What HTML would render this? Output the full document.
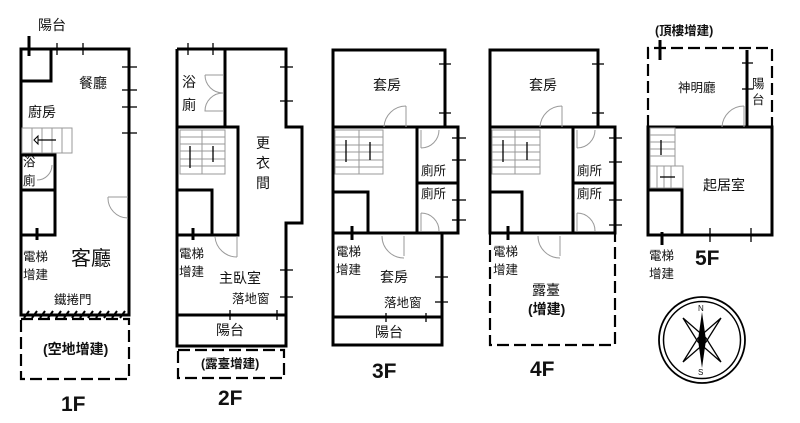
<!DOCTYPE html>
<html><head><meta charset="utf-8"><style>
html,body{margin:0;padding:0;background:#fff;}
svg{display:block;}
text{font-family:"Liberation Sans","Noto Sans CJK TC",sans-serif;fill:#111;}
.w{stroke:#000;stroke-width:3;fill:none;}
.t{stroke:#000;stroke-width:1.3;fill:none;}
.d{stroke:#000;stroke-width:2.2;fill:none;stroke-dasharray:12,5;}
.g{stroke:#999;stroke-width:1;fill:none;}
.l{font-size:14px;}
.s{font-size:12.5px;}
.b{font-size:21px;font-weight:bold;}
</style></head><body>
<svg width="800" height="423" viewBox="0 0 800 423" xmlns="http://www.w3.org/2000/svg">
<!-- 1F -->
<rect class="w" x="21" y="49" width="108" height="266"/>
<polyline class="w" points="21,81 51,81 51,49"/>
<line class="w" x1="29" y1="36" x2="29" y2="56"/>
<line class="t" x1="57" y1="43" x2="57" y2="55"/><line class="t" x1="83" y1="43" x2="83" y2="55"/>
<line class="t" x1="122" y1="67" x2="137" y2="67"/><line class="t" x1="122" y1="90" x2="137" y2="90"/>
<line class="t" x1="122" y1="107" x2="137" y2="107"/><line class="t" x1="122" y1="133" x2="137" y2="133"/>
<rect class="g" x="22" y="128" width="50" height="25"/>
<line class="g" x1="32" y1="128" x2="32" y2="153"/><line class="g" x1="42" y1="128" x2="42" y2="153"/><line class="g" x1="52" y1="128" x2="52" y2="153"/><line class="g" x1="62" y1="128" x2="62" y2="153"/>
<line class="t" x1="36" y1="140" x2="56" y2="140"/><path d="M34,140 l4,-4 v8z" fill="#fff" stroke="#000"/>
<polyline class="w" points="21,155 55,155 55,235 21,235"/>
<line class="w" x1="21" y1="190" x2="55" y2="190"/>
<path class="g" d="M37,180 A15,15 0 0 0 52,165"/>
<line class="w" x1="37" y1="228" x2="37" y2="240"/>
<path class="g" d="M108,197 h20 M128,218 A20,20 0 0 1 108,197"/>
<text class="l" x="38" y="30">陽台</text>
<text class="l" x="79" y="88">餐廳</text>
<text class="l" x="28" y="117">廚房</text>
<text class="s" x="23" y="166">浴</text><text class="s" x="23" y="185">廁</text>
<text class="s" x="23" y="261">電梯</text><text class="s" x="23" y="279">增建</text>
<text x="71" y="265" style="font-size:20px">客廳</text>
<text class="s" x="54" y="304">鐵捲門</text>
<g stroke="#000" stroke-width="2"><line x1="24" y1="318" x2="29" y2="311"/><line x1="32" y1="318" x2="37" y2="311"/><line x1="40" y1="318" x2="45" y2="311"/><line x1="48" y1="318" x2="53" y2="311"/><line x1="56" y1="318" x2="61" y2="311"/><line x1="64" y1="318" x2="69" y2="311"/><line x1="72" y1="318" x2="77" y2="311"/><line x1="80" y1="318" x2="85" y2="311"/><line x1="88" y1="318" x2="93" y2="311"/><line x1="96" y1="318" x2="101" y2="311"/><line x1="104" y1="318" x2="109" y2="311"/><line x1="112" y1="318" x2="117" y2="311"/><line x1="120" y1="318" x2="125" y2="311"/></g>
<rect class="d" x="21" y="319" width="108" height="60"/>
<text class="l" x="43" y="354" style="font-weight:bold">(空地增建)</text>
<text class="b" x="61" y="411">1F</text>
<!-- 2F -->
<polyline class="w" points="177,49 286,49 286,127 302,127 302,223 286,223 286,346 177,346 177,49"/>
<line class="w" x1="177" y1="315" x2="286" y2="315"/>
<line class="w" x1="225" y1="49" x2="225" y2="127"/>
<polyline class="w" points="177,127 238,127 238,235 177,235"/>
<polyline class="w" points="177,190 212,190 212,235"/>
<line class="t" x1="188" y1="43" x2="188" y2="55"/><line class="t" x1="213" y1="43" x2="213" y2="55"/>
<line class="t" x1="280" y1="67" x2="293" y2="67"/><line class="t" x1="280" y1="101" x2="293" y2="101"/>
<line class="t" x1="280" y1="270" x2="293" y2="270"/><line class="t" x1="280" y1="297" x2="293" y2="297"/>
<line class="t" x1="230" y1="310" x2="230" y2="320"/><line class="t" x1="277" y1="310" x2="277" y2="320"/>
<path class="g" d="M205,75 h18 M205,75 A18,18 0 0 0 223,93 A18,18 0 0 0 205,111 h18"/>
<rect class="g" x="180" y="130" width="45" height="44"/>
<line class="g" x1="202" y1="130" x2="202" y2="174"/>
<g class="g"><line x1="180" y1="137" x2="225" y2="137"/><line x1="180" y1="144" x2="225" y2="144"/><line x1="180" y1="151" x2="225" y2="151"/><line x1="180" y1="159" x2="225" y2="159"/><line x1="180" y1="166" x2="225" y2="166"/></g>
<line class="t" x1="190" y1="146" x2="190" y2="168"/><line class="t" x1="213" y1="146" x2="213" y2="162"/>
<line class="w" x1="193" y1="228" x2="193" y2="240"/>
<path class="g" d="M237,237 v20 M215,237 A22,22 0 0 0 237,257"/>
<text class="l" x="182" y="87">浴</text><text class="l" x="182" y="110">廁</text>
<text class="l" x="256" y="148">更</text><text class="l" x="256" y="168">衣</text><text class="l" x="256" y="188">間</text>
<text class="s" x="179" y="258">電梯</text><text class="s" x="179" y="276">增建</text>
<text class="l" x="219" y="283">主臥室</text>
<text class="s" x="232" y="303">落地窗</text>
<text class="l" x="216" y="335">陽台</text>
<rect class="d" x="178" y="350" width="106" height="28"/>
<text class="s" x="201" y="368" style="font-weight:bold">(露臺增建)</text>
<text class="b" x="218" y="405">2F</text>
<!-- 3F -->
<polyline class="w" points="333,127 333,50 445,50 445,127"/>
<rect class="w" x="333" y="127" width="125" height="106"/>
<line class="w" x1="417" y1="127" x2="417" y2="233"/>
<line class="w" x1="417" y1="183" x2="458" y2="183"/>
<polyline class="w" points="333,192 368,192 368,233"/>
<polyline class="w" points="333,233 333,345 442,345 442,233"/>
<line class="w" x1="333" y1="317" x2="442" y2="317"/>
<line class="t" x1="439" y1="64" x2="451" y2="64"/><line class="t" x1="439" y1="113" x2="451" y2="113"/>
<line class="t" x1="452" y1="138" x2="466" y2="138"/><line class="t" x1="452" y1="160" x2="466" y2="160"/>
<line class="t" x1="452" y1="200" x2="466" y2="200"/><line class="t" x1="452" y1="220" x2="466" y2="220"/>
<line class="t" x1="435" y1="277" x2="448" y2="277"/><line class="t" x1="435" y1="302" x2="448" y2="302"/>
<line class="t" x1="386" y1="313" x2="386" y2="322"/><line class="t" x1="426" y1="313" x2="426" y2="322"/>
<path class="g" d="M406,106 v21 M384,127 A22,22 0 0 1 406,106"/>
<path class="g" d="M421,130 v18 M421,148 A18,18 0 0 0 439,130"/>
<path class="g" d="M421,213 v18 M421,213 A18,18 0 0 1 439,231"/>
<path class="g" d="M404,236 v20 M382,236 A22,22 0 0 0 404,258"/>
<rect class="g" x="335" y="130" width="48" height="44"/>
<line class="g" x1="359" y1="130" x2="359" y2="174"/>
<g class="g"><line x1="335" y1="137" x2="383" y2="137"/><line x1="335" y1="145" x2="383" y2="145"/><line x1="335" y1="152" x2="383" y2="152"/><line x1="335" y1="160" x2="383" y2="160"/><line x1="335" y1="167" x2="383" y2="167"/></g>
<line class="t" x1="346" y1="140" x2="346" y2="162"/><line class="t" x1="370" y1="142" x2="370" y2="160"/>
<line class="w" x1="352" y1="226" x2="352" y2="240"/>
<text class="l" x="373" y="90">套房</text>
<text class="s" x="421" y="175">廁所</text><text class="s" x="421" y="198">廁所</text>
<text class="s" x="336" y="256">電梯</text><text class="s" x="336" y="274">增建</text>
<text class="l" x="380" y="282">套房</text>
<text class="s" x="384" y="307">落地窗</text>
<text class="l" x="375" y="337">陽台</text>
<text class="b" x="372" y="378">3F</text>
<!-- 4F -->
<polyline class="w" points="490,127 490,50 598,50 598,127"/>
<rect class="w" x="490" y="127" width="125" height="106"/>
<line class="w" x1="573" y1="127" x2="573" y2="233"/>
<line class="w" x1="573" y1="183" x2="615" y2="183"/>
<polyline class="w" points="490,192 522,192 522,233"/>
<polyline class="d" points="490,233 490,345 615,345 615,233"/>
<line class="t" x1="592" y1="64" x2="604" y2="64"/><line class="t" x1="592" y1="113" x2="604" y2="113"/>
<line class="t" x1="609" y1="138" x2="622" y2="138"/><line class="t" x1="609" y1="162" x2="622" y2="162"/>
<line class="t" x1="609" y1="200" x2="622" y2="200"/><line class="t" x1="609" y1="225" x2="622" y2="225"/>
<path class="g" d="M562,106 v21 M540,127 A22,22 0 0 1 562,106"/>
<path class="g" d="M577,130 v18 M577,148 A18,18 0 0 0 595,130"/>
<path class="g" d="M577,213 v18 M577,213 A18,18 0 0 1 595,231"/>
<path class="g" d="M560,236 v20 M538,236 A22,22 0 0 0 560,258"/>
<rect class="g" x="492" y="130" width="48" height="44"/>
<line class="g" x1="515" y1="130" x2="515" y2="174"/>
<g class="g"><line x1="492" y1="137" x2="540" y2="137"/><line x1="492" y1="145" x2="540" y2="145"/><line x1="492" y1="152" x2="540" y2="152"/><line x1="492" y1="160" x2="540" y2="160"/><line x1="492" y1="167" x2="540" y2="167"/></g>
<line class="t" x1="503" y1="140" x2="503" y2="162"/><line class="t" x1="527" y1="142" x2="527" y2="160"/>
<line class="w" x1="508" y1="226" x2="508" y2="240"/>
<text class="l" x="529" y="90">套房</text>
<text class="s" x="577" y="175">廁所</text><text class="s" x="577" y="198">廁所</text>
<text class="s" x="493" y="256">電梯</text><text class="s" x="493" y="274">增建</text>
<text class="l" x="532" y="295">露臺</text>
<text class="l" x="528" y="314" style="font-weight:bold">(增建)</text>
<text class="b" x="530" y="376">4F</text>
<!-- 5F -->
<polyline class="d" points="648,127 648,48 772,48 772,127"/>
<rect class="w" x="648" y="127" width="124" height="108"/>
<polyline class="w" points="648,190 682,190 682,235"/>
<line class="w" x1="747" y1="50" x2="747" y2="127"/>
<line class="t" x1="742" y1="63" x2="753" y2="63"/><line class="t" x1="742" y1="89" x2="753" y2="89"/>
<line class="w" x1="660" y1="40" x2="660" y2="60"/>
<path class="g" d="M744,106 v21 M722,127 A22,22 0 0 1 744,106"/>
<rect class="g" x="650" y="128" width="25" height="38"/><rect class="g" x="650" y="166" width="33" height="22"/>
<g class="g"><line x1="650" y1="135" x2="675" y2="135"/><line x1="650" y1="142" x2="675" y2="142"/><line x1="650" y1="149" x2="675" y2="149"/><line x1="650" y1="156" x2="675" y2="156"/><line x1="657" y1="166" x2="657" y2="188"/><line x1="664" y1="166" x2="664" y2="188"/><line x1="671" y1="166" x2="671" y2="188"/></g>
<line class="t" x1="661" y1="140" x2="661" y2="155"/><line class="t" x1="660" y1="177" x2="675" y2="177"/>
<line class="t" x1="710" y1="228" x2="710" y2="242"/><line class="t" x1="751" y1="228" x2="751" y2="242"/>
<line class="w" x1="662" y1="232" x2="662" y2="245"/>
<text class="s" x="655" y="35" style="font-weight:bold">(頂樓增建)</text>
<text class="s" x="678" y="92">神明廳</text>
<text class="s" x="752" y="88">陽</text><text class="s" x="752" y="104">台</text>
<text class="l" x="703" y="190">起居室</text>
<text class="s" x="649" y="260">電梯</text><text class="s" x="649" y="278">增建</text>
<text class="b" x="695" y="265">5F</text>
<!-- compass -->
<circle cx="702" cy="340" r="43" fill="none" stroke="#000" stroke-width="1.8"/>
<circle cx="702" cy="340" r="38.5" fill="none" stroke="#000" stroke-width="1.5"/>
<path d="M702,312 L706,340 L702,368 L698,340Z" fill="#000"/>
<path d="M683,318 L706,338 L721,362 L698,342Z" fill="none" stroke="#000" stroke-width="1.3"/>
<path d="M721,318 L706,342 L683,362 L698,338Z" fill="none" stroke="#000" stroke-width="1.3"/>
<text x="698" y="311" style="font-size:8px">N</text>
<text x="698" y="375" style="font-size:8px">S</text>
</svg>
</body></html>
